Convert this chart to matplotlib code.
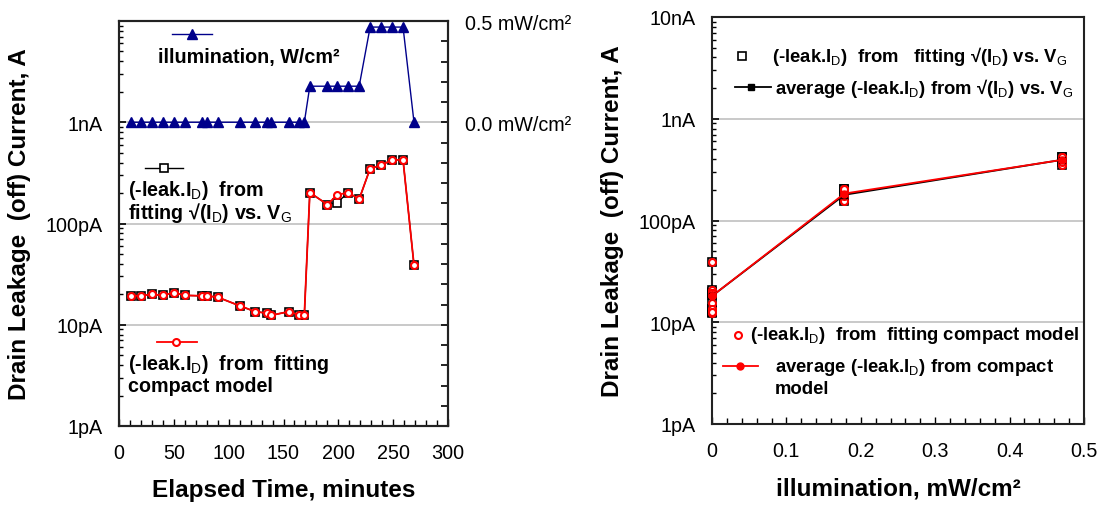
import matplotlib
matplotlib.use("Agg")
import matplotlib.pyplot as plt
from matplotlib.lines import Line2D
from matplotlib.ticker import FixedLocator, MultipleLocator, LogLocator, NullFormatter, FixedFormatter
import numpy as np

plt.rcParams['font.family'] = ['Liberation Sans', 'DejaVu Sans']
plt.rcParams['mathtext.fontset'] = 'custom'
plt.rcParams['mathtext.rm'] = 'Liberation Sans'
plt.rcParams['mathtext.it'] = 'Liberation Sans:italic'
plt.rcParams['mathtext.bf'] = 'Liberation Sans:bold'

# ---- data ----
time_min = [11, 20, 30, 40, 50, 60, 76, 80, 90, 110, 124, 135, 139, 155, 164, 169,
            174, 190, 199, 209, 219, 229, 239, 249, 259, 269]
illum_mw = [0, 0, 0, 0, 0, 0, 0, 0, 0, 0, 0, 0, 0, 0, 0, 0,
            0.178, 0.178, 0.178, 0.178, 0.178, 0.47, 0.47, 0.47, 0.47, 0]
leak_fit_pA = [19.3, 19.3, 20.0, 19.5, 20.8, 19.5, 19.3, 19.3, 18.7, 15.4, 13.5, 13.0, 12.4,
               13.5, 12.5, 12.5, 202, 154, 161, 202, 174, 349, 376, 425, 425, 38.7]
leak_model_pA = [19.3, 19.3, 20.0, 19.5, 20.8, 19.5, 19.3, 19.3, 18.7, 15.4, 13.5, 13.0, 12.4,
                 13.5, 12.5, 12.5, 202, 154, 192, 202, 174, 349, 376, 425, 425, 38.7]
avg_illum = [0, 0.178, 0.47]
avg_fit_pA = [18.1, 179, 394]
avg_model_pA = [18.1, 184, 394]
xticks_right = [0, 0.1, 0.2, 0.3, 0.4, 0.5]
xticklabels_right = ['0', '0.1', '0.2', '0.3', '0.4', '0.5']

leak_fit = np.array(leak_fit_pA) * 1e-12
leak_model = np.array(leak_model_pA) * 1e-12
avg_fit = np.array(avg_fit_pA) * 1e-12
avg_model = np.array(avg_model_pA) * 1e-12

W, H = 1102, 506
fig = plt.figure(figsize=(W / 100, H / 100), dpi=100)


def box(l, t, r, b):
    return [l / W, 1 - b / H, (r - l) / W, (b - t) / H]


def fx(x, y):
    return (x / W, 1 - y / H)


RED = '#ff0000'
NAVY = '#00008b'
GRID = '#c0c0c0'
TICKFS = 14.2
LABFS = 17.5
LEGL = 14.2
LEGR = 13.3


def style_log(ax, labels):
    ax.set_yscale('log')
    ax.set_ylim(1e-12, 1e-8)
    ax.yaxis.set_major_locator(FixedLocator([1e-12, 1e-11, 1e-10, 1e-9, 1e-8]))
    ax.yaxis.set_major_formatter(FixedFormatter(labels))
    ax.yaxis.set_minor_locator(LogLocator(base=10, subs=np.arange(2, 10)))
    ax.yaxis.set_minor_formatter(NullFormatter())
    ax.grid(True, axis='y', which='major', color=GRID, lw=1.2)
    ax.set_axisbelow(True)
    ax.tick_params(axis='both', which='both', direction='in', labelsize=TICKFS)
    ax.tick_params(axis='y', which='major', length=5, width=1.2, pad=12)
    ax.tick_params(axis='y', which='minor', length=3, width=1)
    ax.tick_params(axis='x', which='major', length=5, width=1, pad=12)
    ax.tick_params(axis='x', which='minor', length=4, width=1)
    ax.tick_params(top=False, right=False, which='both')
    for s in ax.spines.values():
        s.set_linewidth(1.5)
        s.set_color('#222222')


# ---------------- left chart ----------------
ax1 = fig.add_axes(box(119, 22, 448, 427))
style_log(ax1, ['1pA', '10pA', '100pA', '1nA', ''])
ax1.set_xlim(0, 300)
ax1.xaxis.set_major_locator(MultipleLocator(50))
ax1.xaxis.set_minor_locator(MultipleLocator(10))
ax1.set_xlabel('Elapsed Time, minutes', fontsize=LABFS, fontweight='bold', labelpad=12)
ax1.set_ylabel('Drain Leakage  (off) Current, A', fontsize=LABFS, fontweight='bold', labelpad=10)

ax1.plot(time_min, leak_fit, color='black', lw=1, marker='s', ms=6, mfc='white', mec='black', mew=1.2, zorder=3)
ax1.plot(time_min, leak_model, color=RED, lw=1.3, marker='o', ms=5, mfc='white', mec=RED, mew=1.5, zorder=4)

ax2 = ax1.twinx()
ax2.set_ylim(-1.5, 0.5)
ax2.plot(time_min, illum_mw, color=NAVY, lw=1, marker='^', ms=7, zorder=3)
ax2.yaxis.set_major_locator(FixedLocator([0.0, 0.5]))
ax2.yaxis.set_major_formatter(FixedFormatter(['0.0 mW/cm²', '0.5 mW/cm²']))
ax2.yaxis.set_minor_locator(MultipleLocator(0.1))
ax2.tick_params(axis='y', which='both', direction='in', length=5, width=1.2, labelsize=TICKFS, pad=12)
for s in ax2.spines.values():
    s.set_linewidth(1.5)
    s.set_color('#222222')

# in-plot legend samples (left)
fig.add_artist(Line2D([172 / W, 212 / W], [1 - 35 / H] * 2, color=NAVY, lw=1))
fig.add_artist(Line2D([192 / W], [1 - 35 / H], color=NAVY, marker='^', ms=7))
fig.text(*fx(158, 58), 'illumination, W/cm²', fontsize=LEGL, fontweight='bold', va='center')

fig.add_artist(Line2D([145 / W, 183 / W], [1 - 169 / H] * 2, color='black', lw=1))
fig.add_artist(Line2D([164 / W], [1 - 169 / H], marker='s', ms=6, mfc='white', mec='black', mew=1.2))
fig.text(*fx(128, 190), r'(-leak.I$_\mathrm{D}$)  from', fontsize=LEGL, fontweight='bold', va='center')
fig.text(*fx(128, 213), r'fitting √(I$_\mathrm{D}$) vs. V$_\mathrm{G}$', fontsize=LEGL, fontweight='bold', va='center')

fig.add_artist(Line2D([157 / W, 197 / W], [1 - 343 / H] * 2, color=RED, lw=1.3))
fig.add_artist(Line2D([176 / W], [1 - 343 / H], marker='o', ms=5, mfc='white', mec=RED, mew=1.5))
fig.text(*fx(128, 365), r'(-leak.I$_\mathrm{D}$)  from  fitting', fontsize=LEGL, fontweight='bold', va='center')
fig.text(*fx(128, 387), 'compact model', fontsize=LEGL, fontweight='bold', va='center')

# ---------------- right chart ----------------
ax3 = fig.add_axes(box(712, 18, 1084, 425))
style_log(ax3, ['1pA', '10pA', '100pA', '1nA', '10nA'])
ax3.set_xlim(0, 0.5)
ax3.xaxis.set_major_locator(FixedLocator(xticks_right))
ax3.xaxis.set_major_formatter(FixedFormatter(xticklabels_right))
ax3.xaxis.set_minor_locator(MultipleLocator(0.02))
ax3.set_xlabel('illumination, mW/cm²', fontsize=LABFS, fontweight='bold', labelpad=12)
ax3.set_ylabel('Drain Leakage  (off) Current, A', fontsize=LABFS, fontweight='bold', labelpad=10)

ax3.plot(illum_mw, leak_fit, ls='none', marker='s', ms=6, mfc='white', mec='black', mew=1.2, zorder=3, clip_on=False)
ax3.plot(illum_mw, leak_model, ls='none', marker='o', ms=5, mfc='white', mec=RED, mew=1.5, zorder=4, clip_on=False)
ax3.plot(avg_illum, avg_fit, color='black', lw=1.3, marker='s', ms=5, zorder=5, clip_on=False)
ax3.plot(avg_illum, avg_model, color=RED, lw=1.3, marker='o', ms=5, zorder=6, clip_on=False)

fig.add_artist(Line2D([742 / W], [1 - 57 / H], marker='s', ms=6, mfc='white', mec='black', mew=1.2))
fig.text(*fx(772, 57), r'(-leak.I$_\mathrm{D}$)  from   fitting √(I$_\mathrm{D}$) vs. V$_\mathrm{G}$',
         fontsize=LEGR, fontweight='bold', va='center')
fig.add_artist(Line2D([735 / W, 771 / W], [1 - 88 / H] * 2, color='black', lw=1.3))
fig.add_artist(Line2D([751 / W], [1 - 88 / H], color='black', marker='s', ms=5))
fig.text(*fx(775, 88), r'average (-leak.I$_\mathrm{D}$) from √(I$_\mathrm{D}$) vs. V$_\mathrm{G}$',
         fontsize=LEGR, fontweight='bold', va='center')

fig.add_artist(Line2D([738 / W], [1 - 336 / H], marker='o', ms=5, mfc='white', mec=RED, mew=1.5))
fig.text(*fx(750, 336), r'(-leak.I$_\mathrm{D}$)  from  fitting compact model',
         fontsize=LEGR, fontweight='bold', va='center')
fig.add_artist(Line2D([723 / W, 758 / W], [1 - 367 / H] * 2, color=RED, lw=1.3))
fig.add_artist(Line2D([740 / W], [1 - 367 / H], color=RED, marker='o', ms=5))
fig.text(*fx(775, 367), r'average (-leak.I$_\mathrm{D}$) from compact',
         fontsize=LEGR, fontweight='bold', va='center')
fig.text(*fx(775, 390), 'model', fontsize=LEGR, fontweight='bold', va='center')

fig.savefig('out.png', dpi=100)
